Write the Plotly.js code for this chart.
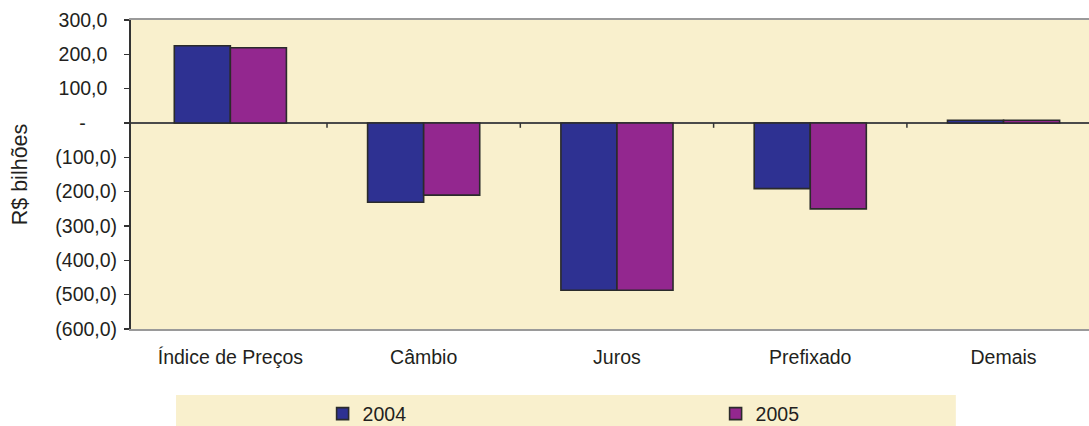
<!DOCTYPE html>
<html>
<head>
<meta charset="utf-8">
<script src="https://cdn.plot.ly/plotly-3.0.1.min.js"></script>
<style>
  html, body { margin: 0; padding: 0; background: #ffffff; overflow: hidden; }
  #chart { width: 1089px; height: 426px; }
</style>
</head>
<body>
<div id="chart"></div>
<script>
// Carteira por indexador, R$ bilhões
const categories = ['Índice de Preços', 'Câmbio', 'Juros', 'Prefixado', 'Demais'];
const values2004 = [225, -231, -487, -191, 8];
const values2005 = [219, -210, -487, -250, 8];
const seriesNames = ['2004', '2005'];

// accounting-style labels: negatives in parentheses, zero as a dash,
// positives padded (invisible glyphs) so the digits line up
const pad = s => '<span style="color:rgba(0,0,0,0)">' + s + '</span>';
const yTickVals = [300, 200, 100, 0, -100, -200, -300, -400, -500, -600];
const yTickText = ['300,0' + pad('c'), '200,0' + pad('c'), '100,0' + pad('c'),
  '-' + pad('00c'),
  '(100,0)', '(200,0)', '(300,0)', '(400,0)', '(500,0)', '(600,0)'];

const FONT = 'Liberation Sans, Arial, sans-serif';
const FS = 19.5;
const TEXT = '#231f20';
const BEIGE = '#f9f0cd';

const barLine = { color: '#2b2b2b', width: 1.6 };
const traces = [
  { type: 'bar', name: seriesNames[0], x: categories, y: values2004,
    marker: { color: '#2e3192', line: barLine } },
  { type: 'bar', name: seriesNames[1], x: categories, y: values2005,
    marker: { color: '#93278f', line: barLine } }
];

// small tick marks on the zero line between categories
const sepTicks = [];
for (let i = 0; i < categories.length - 1; i++) {
  sepTicks.push({ type: 'line', xref: 'x', yref: 'y', x0: i + 0.5, x1: i + 0.5,
    y0: 0, y1: -14, line: { color: '#333333', width: 1.5 } });
}

const layout = {
  width: 1089, height: 426,
  margin: { l: 131, r: 0, t: 20, b: 97, pad: 0, autoexpand: false },
  paper_bgcolor: '#ffffff',
  plot_bgcolor: BEIGE,
  font: { family: FONT, size: FS, color: TEXT },
  barmode: 'group',
  bargap: 0.42,
  bargroupgap: 0,
  showlegend: true,
  legend: {
    orientation: 'h', x: 0.2, xanchor: 'left', y: -0.275, yanchor: 'middle',
    bgcolor: 'rgba(0,0,0,0)', entrywidth: 348, entrywidthmode: 'pixels',
    font: { family: FONT, size: FS, color: TEXT }
  },
  xaxis: {
    type: 'category', range: [-0.514, 4.442], fixedrange: true, automargin: false,
    showgrid: false, zeroline: false,
    showline: true, mirror: true, linecolor: '#9a9a9a', linewidth: 2,
    ticks: 'outside', ticklen: 10, tickcolor: 'rgba(0,0,0,0)',
    tickfont: { family: FONT, size: FS, color: TEXT }
  },
  yaxis: {
    range: [-600, 300], fixedrange: true, automargin: false,
    tickvals: yTickVals, ticktext: yTickText,
    showgrid: false,
    zeroline: true, zerolinecolor: '#4a4a4a', zerolinewidth: 2,
    showline: true, linecolor: '#333333', linewidth: 2,
    ticks: 'outside', ticklen: 5, tickcolor: '#333333', tickwidth: 1.5,
    ticklabelstandoff: 3,
    tickfont: { family: FONT, size: FS, color: TEXT },
    title: { text: 'R$ bilhões', font: { family: FONT, size: 21.5, color: TEXT }, standoff: 22 }
  },
  shapes: [
    { type: 'rect', xref: 'paper', yref: 'paper', x0: 0.047, x1: 0.861, y0: -0.36, y1: -0.2136,
      fillcolor: BEIGE, line: { width: 0 }, layer: 'below' },
    ...sepTicks
  ]
};

Plotly.newPlot('chart', traces, layout, { displayModeBar: false, staticPlot: true });
</script>
</body>
</html>
